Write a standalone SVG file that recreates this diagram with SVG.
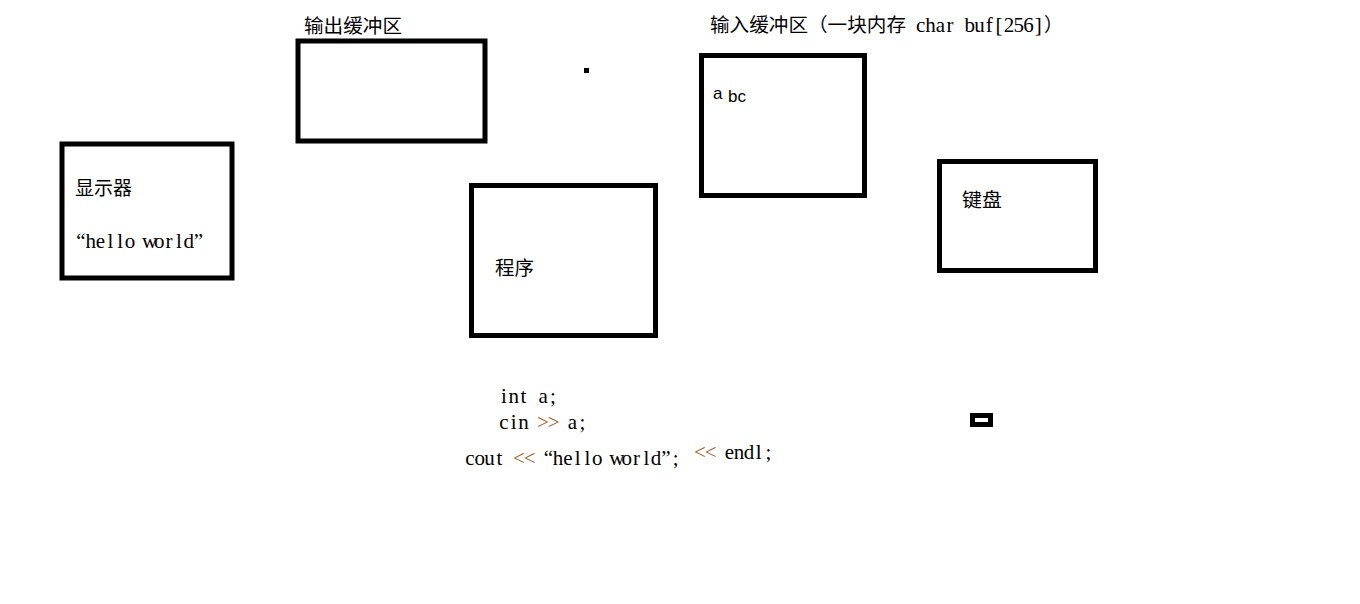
<svg xmlns="http://www.w3.org/2000/svg" width="1360" height="604" viewBox="0 0 1360 604">
<style>
.box{fill:none;stroke:#000;stroke-width:5}
.cjk{font-family:"Noto Sans CJK SC","Noto Sans",sans-serif;font-size:19px;fill:#000}
.mono{font-family:"Liberation Serif","Noto Sans CJK SC",serif;font-size:21px;fill:#000;text-anchor:middle}
.op{fill:#a0602a;font-size:21px}
.sans{font-family:"Liberation Sans",Arial,sans-serif;font-size:17px;fill:#000}
</style>
<rect width="1360" height="604" fill="#fff"/>
<g id="display">
<rect class="box" x="62" y="144" width="170" height="134"/>
<text class="cjk" x="75" y="195" textLength="57" lengthAdjust="spacingAndGlyphs">显示器</text>
<text class="mono" x="80.9 90.7 100.5 110.3 120.1 129.9 139.7 149.5 159.3 169.1 178.9 188.7 198.5" y="248">“hello world”</text>
</g>
<g id="output-buffer">
<text class="cjk" x="304" y="33" textLength="98" lengthAdjust="spacingAndGlyphs">输出缓冲区</text>
<rect class="box" x="298" y="41" width="187" height="100"/>
</g>
<g id="dot">
<rect x="584" y="68" width="5" height="5" fill="#000"/>
</g>
<g id="input-buffer">
<text class="cjk" x="710" y="32" textLength="196" lengthAdjust="spacingAndGlyphs">输入缓冲区（一块内存</text>
<text class="mono" x="920.7 930.5 940.3 950.1 959.9 969.7 979.5 989.3 999.1 1008.9 1018.7 1028.5 1038.3" y="32">char buf[256]</text>
<text class="cjk" x="1044" y="32" textLength="19" lengthAdjust="spacingAndGlyphs">）</text>
<rect class="box" x="701.5" y="55.5" width="163" height="140"/>
<text class="sans" x="713" y="99">a</text>
<text class="sans" x="728" y="102">bc</text>
</g>
<g id="program">
<rect class="box" x="471.5" y="185.5" width="184" height="150"/>
<text class="cjk" x="495" y="275" textLength="39" lengthAdjust="spacingAndGlyphs">程序</text>
</g>
<g id="keyboard">
<rect class="box" x="939.5" y="161.5" width="156" height="109"/>
<text class="cjk" x="962" y="207" textLength="40" lengthAdjust="spacingAndGlyphs">键盘</text>
</g>
<g id="small-box">
<rect x="972.5" y="415.5" width="18" height="9" fill="none" stroke="#000" stroke-width="5"/>
</g>
<g id="code">
<text class="mono" x="503.9 513.7 523.5 533.3 543.1 552.9" y="403">int a;</text>
<text class="mono" x="503.9 513.7 523.5" y="429">cin</text>
<text class="mono op" x="542.9 553.7" y="429">&gt;&gt;</text>
<text class="mono" x="572.5 582.3" y="429">a;</text>
<text class="mono" x="469.9 479.7 489.5 499.3" y="465">cout</text>
<text class="mono op" x="518.9 529.7" y="465">&lt;&lt;</text>
<text class="mono" x="548.3 558.1 567.9 577.7 587.5 597.3 607.1 616.9 626.7 636.5 646.3 656.1 665.9 675.7" y="465">“hello world”;</text>
<text class="mono op" x="699.9 710.7" y="459">&lt;&lt;</text>
<text class="mono" x="729.3 739.1 748.9 758.7 768.5" y="459">endl;</text>
</g>
<g id="connectors"/>
</svg>
